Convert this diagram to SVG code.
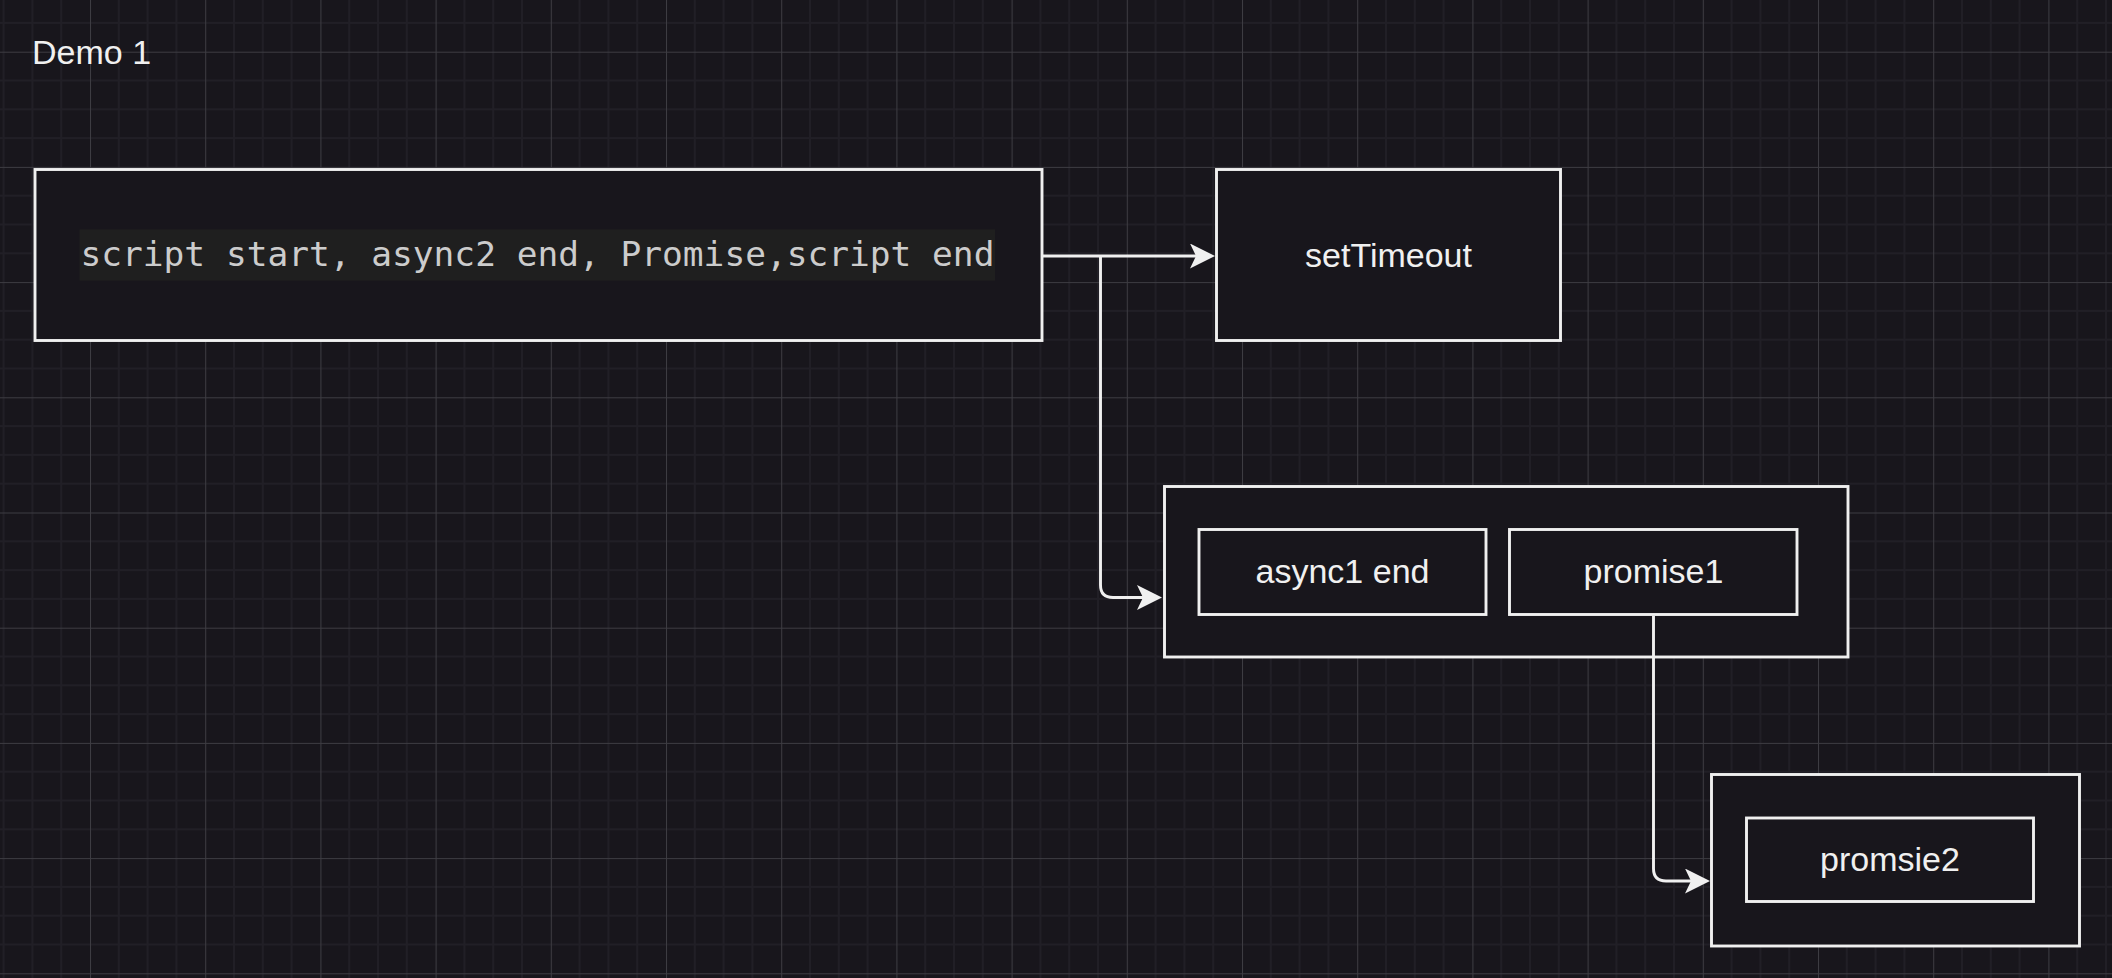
<svg xmlns="http://www.w3.org/2000/svg" width="2112" height="978" viewBox="0 0 2112 978">
  <style>
    .box { fill: #18161c; stroke: #f0f0f0; stroke-width: 2.9; }
    .lbl { font-family: "Liberation Sans", Arial, Helvetica, sans-serif; font-size: 34px; fill: #f0f0f0; text-anchor: middle; }
    .title { font-family: "Liberation Sans", Arial, Helvetica, sans-serif; font-size: 34px; fill: #f0f0f0; }
    .mono { font-family: "DejaVu Sans Mono", "Liberation Mono", monospace; font-size: 34.5px; fill: #cccccc; }
    .edge { fill: none; stroke: #f0f0f0; stroke-width: 2.9; marker-end: url(#arrow); }
  </style>
  <defs>
    <pattern id="grid" patternUnits="userSpaceOnUse" x="90" y="51.7" width="115.2" height="115.2">
      <rect width="115.2" height="115.2" fill="#18161c"/>
      <path d="M28.8 0V115.2M57.6 0V115.2M86.4 0V115.2M0 28.8H115.2M0 57.6H115.2M0 86.4H115.2" stroke="#211f26" stroke-width="2" fill="none"/>
      <path d="M0 0V115.2M0 0H115.2" stroke="#3d3c42" stroke-width="2" fill="none"/>
    </pattern>
    <marker id="arrow" markerUnits="userSpaceOnUse" markerWidth="26" markerHeight="26" refX="6" refY="12.5" orient="auto" viewBox="0 0 26 26">
      <path d="M0,0 L25,12.5 L0,25 L6,12.5 Z" fill="#f0f0f0"/>
    </marker>
  </defs>
  <rect width="2112" height="978" fill="url(#grid)"/>

  <g id="title">
    <text class="title" x="32" y="64.3">Demo 1</text>
  </g>

  <g id="node-script">
    <rect class="box" x="35" y="169.5" width="1007" height="171"/>
    <rect x="79.5" y="229.3" width="915.5" height="51.4" fill="#1f1f1f"/>
    <text class="mono" x="80.5" y="266">script start, async2 end, Promise,script end</text>
  </g>

  <g id="node-settimeout">
    <rect class="box" x="1216.5" y="169.5" width="344" height="171"/>
    <text class="lbl" x="1388.5" y="266.7">setTimeout</text>
  </g>

  <g id="node-microtasks">
    <rect class="box" x="1164.5" y="486.5" width="683.5" height="170.5"/>
  </g>

  <g id="node-async1">
    <rect class="box" x="1199" y="529.5" width="287" height="85"/>
    <text class="lbl" x="1342.5" y="582.5">async1 end</text>
  </g>

  <g id="node-promise1">
    <rect class="box" x="1509.5" y="529.5" width="287.5" height="85"/>
    <text class="lbl" x="1653.5" y="582.5">promise1</text>
  </g>

  <g id="node-container2">
    <rect class="box" x="1711.5" y="774.5" width="368" height="171.5"/>
  </g>

  <g id="node-promsie2">
    <rect class="box" x="1746.5" y="818" width="287" height="83.5"/>
    <text class="lbl" x="1890" y="871">promsie2</text>
  </g>

  <g id="connectors">
    <path class="edge" d="M1043 256 H1196"/>
    <path class="edge" d="M1100.5 256 V585 Q1100.5 597.5 1113 597.5 H1143"/>
    <path class="edge" d="M1653.5 616 V868.5 Q1653.5 881 1666 881 H1691"/>
  </g>
</svg>
